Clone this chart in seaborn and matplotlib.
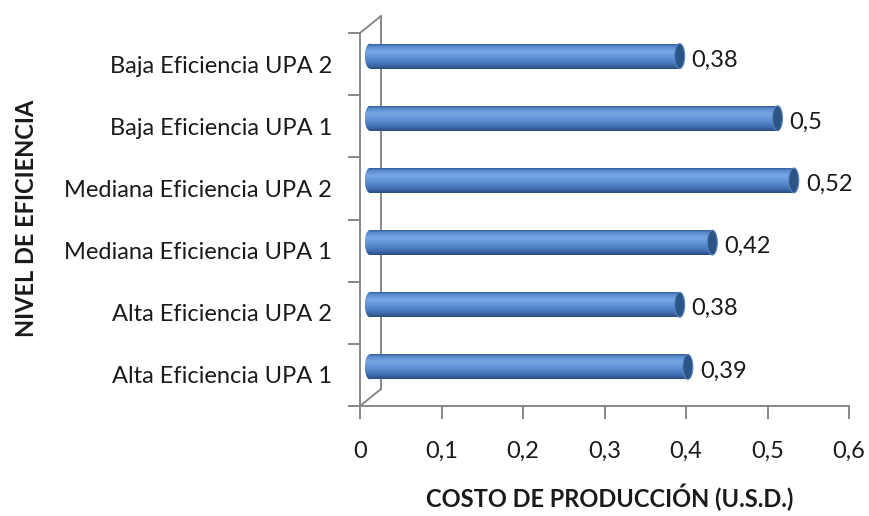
import numpy as np
import pandas as pd
import matplotlib
matplotlib.use("Agg")
import matplotlib.pyplot as plt
import matplotlib.transforms as mtransforms
from matplotlib.patches import Ellipse
from matplotlib.colors import LinearSegmentedColormap
import seaborn as sns

# datos (de arriba hacia abajo)
categorias = [
    "Baja Eficiencia UPA 2",
    "Baja Eficiencia UPA 1",
    "Mediana Eficiencia UPA 2",
    "Mediana Eficiencia UPA 1",
    "Alta Eficiencia UPA 2",
    "Alta Eficiencia UPA 1",
]
costos = [0.38, 0.50, 0.52, 0.42, 0.38, 0.39]
etiquetas = ["0,38", "0,5", "0,52", "0,42", "0,38", "0,39"]
xticks = [0, 0.1, 0.2, 0.3, 0.4, 0.5, 0.6]
xtick_labels = ["0", "0,1", "0,2", "0,3", "0,4", "0,5", "0,6"]

sns.set_theme(style="white")
plt.rcParams["font.family"] = ["Lato", "DejaVu Sans"]

gris = "#878787"
fs = 17

fig = plt.figure(figsize=(8.69, 5.16), dpi=100)
ax = fig.add_axes([360 / 869, 1 - 406 / 516, 489 / 869, 373 / 516])

df = pd.DataFrame({"nivel": categorias, "costo": costos})
sns.barplot(data=df, x="costo", y="nivel", orient="h", width=0.4,
            color="#4F81BD", ax=ax, zorder=3)

ax.set_xlim(0, 0.6)
ax.set_ylim(5.5, -0.5)

# desplazamiento 3D de las barras
off = mtransforms.ScaledTranslation(10 / 100, 8 / 100, fig.dpi_scale_trans)
tr = ax.transData + off

cmap = LinearSegmentedColormap.from_list("cil", [
    (0.0, "#335b95"), (0.08, "#5687ca"), (0.3, "#78a8e4"),
    (0.55, "#5e92d5"), (0.8, "#4474b7"), (1.0, "#2b4e82")])
grad = np.linspace(0, 1, 100).reshape(-1, 1)

px_per_unit = ax.get_position().width * 869 / 0.6
w_cap = 10 / px_per_unit

for p in ax.patches:
    x0, y0, w, h = p.get_x(), p.get_y(), p.get_width(), p.get_height()
    yc = y0 + h / 2
    p.set_transform(tr)
    p.set_edgecolor("none")
    # tapa izquierda
    left = Ellipse((x0, yc), w_cap, h, transform=tr, facecolor="#4F81BD",
                   edgecolor="none", zorder=2.9)
    ax.add_patch(left)
    for clip, z in [(left, 3.0), (p, 3.1)]:
        im = ax.imshow(grad, cmap=cmap, aspect="auto",
                       extent=[x0 - w_cap, x0 + w, y0 + h, y0],
                       transform=tr, zorder=z, interpolation="bilinear")
        im.set_clip_path(clip)
    # tapa derecha
    ax.add_patch(Ellipse((x0 + w, yc), w_cap, h, transform=tr,
                         facecolor="#2d5486", edgecolor="#5a86c0",
                         linewidth=0.8, zorder=3.5))

ax.set_xlim(0, 0.6)
ax.set_ylim(5.5, -0.5)

# etiquetas de valores
tr_txt = ax.transData + mtransforms.ScaledTranslation(22 / 100, 4 / 100, fig.dpi_scale_trans)
for i, (v, t) in enumerate(zip(costos, etiquetas)):
    ax.text(v, i, t, transform=tr_txt, ha="left", va="center",
            fontsize=fs, color="#1a1a1a")

# ejes
sns.despine(ax=ax, top=True, right=True)
for s in ["left", "bottom"]:
    ax.spines[s].set_color(gris)
    ax.spines[s].set_linewidth(1.4)

ax.set_xticks(xticks)
ax.set_xticklabels(xtick_labels, fontsize=fs, color="#1a1a1a")
ax.set_yticks(range(len(categorias)))
ax.set_yticklabels(categorias, fontsize=fs, color="#1a1a1a")
ax.set_yticks(np.arange(-0.5, 6, 1), minor=True)
ax.tick_params(axis="x", length=9, width=1.4, color=gris, pad=16, direction="out", bottom=True)
ax.tick_params(axis="y", which="major", length=0, pad=20)
ax.tick_params(axis="y", which="minor", length=9, width=1.4, color=gris, direction="out", left=True)

# pared del fondo (perspectiva)
dep = mtransforms.ScaledTranslation(21 / 100, 17 / 100, fig.dpi_scale_trans)
wall = ax.transAxes + dep
ax.plot([0, 0], [0, 1], transform=wall, color=gris, lw=1.4, zorder=1, clip_on=False)
for yy in [0, 1]:
    ax.annotate("", xy=(0, yy), xycoords=wall, xytext=(0, yy), textcoords=ax.transAxes,
                arrowprops=dict(arrowstyle="-", color=gris, lw=1.4, shrinkA=0, shrinkB=0))

ax.set_xlabel("COSTO DE PRODUCCIÓN (U.S.D.)", fontsize=fs, fontweight="bold", color="#1a1a1a")
ax.set_ylabel("NIVEL DE EFICIENCIA", fontsize=fs, fontweight="bold", color="#1a1a1a")
ax.xaxis.set_label_coords(0.511, -0.244)
ax.xaxis.label.set_va("center")
ax.yaxis.set_label_coords(-0.681, 0.503)
ax.yaxis.label.set_va("center")

fig.savefig("out.png", dpi=100, facecolor="white")
